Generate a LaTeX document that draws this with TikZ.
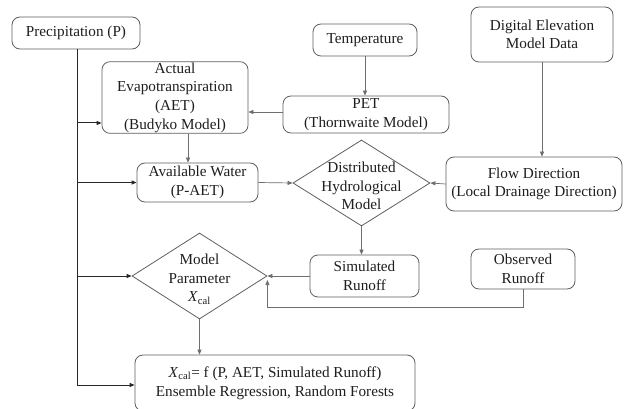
\documentclass[tikz,border=0pt]{standalone}
\usepackage{fontspec}
\setmainfont{Liberation Serif}
\usetikzlibrary{shapes.geometric,arrows.meta,calc}
\definecolor{bordc}{RGB}{95,95,95}
\definecolor{linec}{RGB}{110,110,110}
\definecolor{plinec}{RGB}{40,40,40}
\definecolor{txtc}{RGB}{30,30,30}
\begin{document}
\begin{tikzpicture}[x=1pt,y=-1pt,
  font=\fontsize{15.2}{18.6}\selectfont,
  box/.style={draw=bordc,line width=0.8pt,rounded corners=8pt,align=center,inner sep=1pt,text=txtc},
  dia/.style={draw=bordc,line width=0.8pt,diamond,inner sep=0pt},
  txt/.style={align=center,text=txtc,inner sep=0pt},
  arr/.style={draw=linec,line width=0.7pt,-{Triangle[length=5pt,width=4pt]}},
  parr/.style={draw=plinec,line width=1pt,-{Triangle[length=5pt,width=4pt]}},
  pline/.style={draw=plinec,line width=1pt}]
\useasboundingbox (0,0) rectangle (624,409);
\fill[white] (0,0) rectangle (624,409);

\node[box,minimum width=128pt,minimum height=32pt] (P) at (76,33) {Precipitation (P)};
\node[box,minimum width=104pt,minimum height=32pt] (temp) at (365,40) {Temperature};
\node[box,minimum width=142pt,minimum height=55pt] (dem) at (542,34.5) {Digital Elevation\\Model Data};
\node[box,minimum width=146pt,minimum height=71pt] (aet) at (175,97.5) {Actual\\Evapotranspiration\\(AET)\\(Budyko Model)};
\node[box,minimum width=166pt,minimum height=37pt] (pet) at (366,114.5) {PET\\(Thornwaite Model)};
\node[box,minimum width=121pt,minimum height=39pt] (aw) at (197.5,182.5) {Available Water\\(P-AET)};
\node[dia,minimum width=137pt,minimum height=86pt] (dhm) at (361.5,183) {};
\node[txt] (dhmt) at (361.5,186) {Distributed\\Hydrological\\Model};
\node[box,minimum width=176pt,minimum height=54pt] (fd) at (534,184) {Flow Direction\\(Local Drainage Direction)};
\node[dia,minimum width=135pt,minimum height=86pt] (mp) at (199.5,276) {};
\node[txt] (mpt) at (199.5,279) {Model\\Parameter\\\textit{X}\textsubscript{cal}};
\node[box,minimum width=109pt,minimum height=42pt] (sr) at (364.5,276) {Simulated\\Runoff};
\node[box,minimum width=104pt,minimum height=40pt] (or) at (523,269) {Observed\\Runoff};
\node[box,minimum width=280pt,minimum height=56pt] (fin) at (275,383) {\textit{X}\textsubscript{cal}= f (P, AET, Simulated Runoff)\\Ensemble Regression, Random Forests};

% precipitation trunk and branches
\coordinate (pb) at (77,49);
\draw[pline] (P.south -| pb) -- (pb |- 0,385);
\draw[parr] (pb |- 0,385) -- (fin.west |- 0,385);
\coordinate (b1) at (77,123);
\draw[parr] (b1) -- (b1 -| aet.west);
\draw[parr] (pb |- aw.west) -- (aw.west);
\draw[parr] (pb |- mp.west) -- (mp.west);

% other connectors
\draw[arr] (temp.south) -- (temp.south |- pet.north);
\draw[arr] ($(pet.west)+(0,-2.5)$) coordinate (pw) -- (pw -| aet.east);
\draw[arr] ($(aet.south)+(13,0)$) coordinate (as) -- (as |- aw.north);
\draw[arr] (aw.east) -- (dhm.west);
\draw[arr] (fd.west) -- (dhm.east);
\draw[arr] (dem.south) -- (dem.south |- fd.north);
\draw[arr] (dhm.south) -- (dhm.south |- sr.north);
\draw[arr] (sr.west) -- (mp.east);
\draw[arr] (or.south) -- (or.south |- 0,307) -| ($(mp.east)+(0,4)$);
\draw[arr] (mp.south) -- (mp.south |- fin.north);
\end{tikzpicture}
\end{document}
